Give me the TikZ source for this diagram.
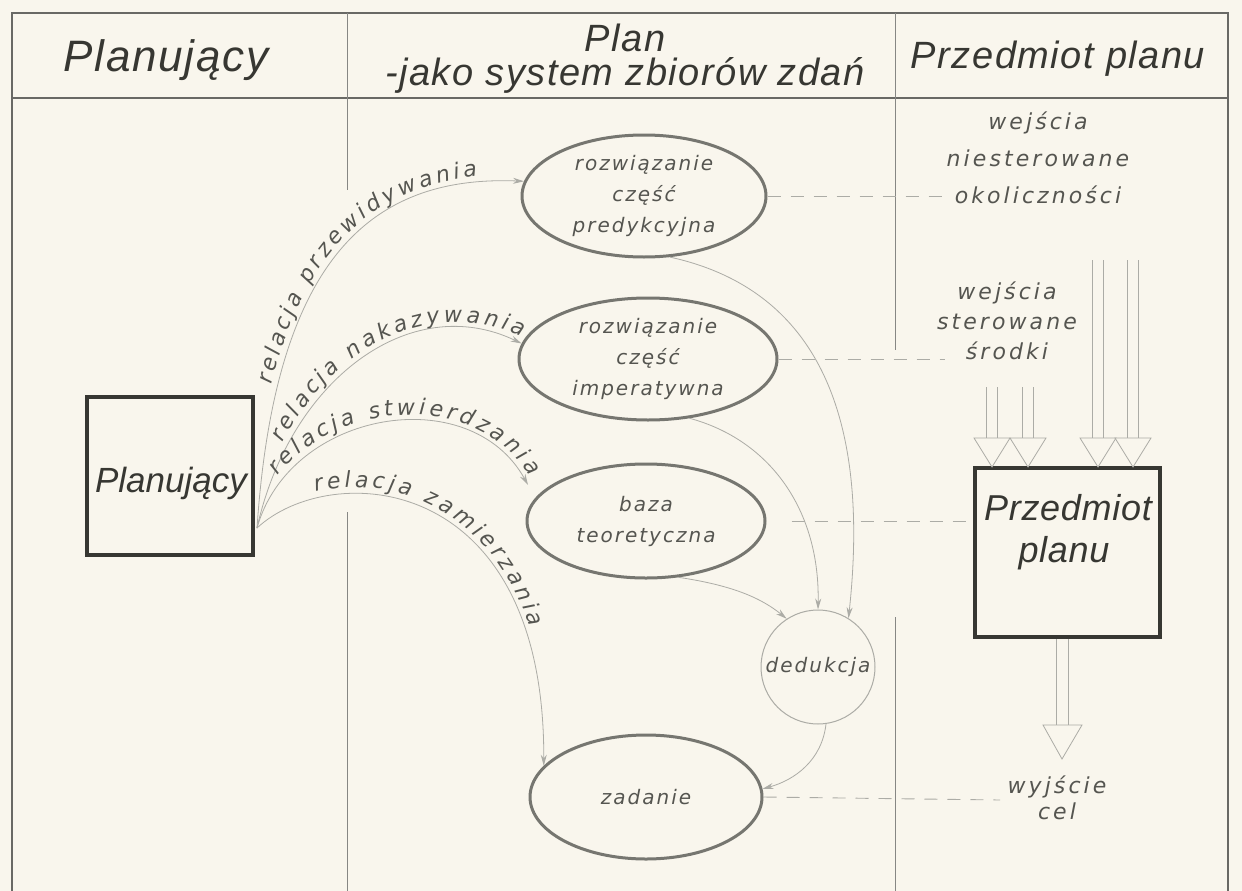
\documentclass[tikz,border=0pt]{standalone}
\usepackage{fontspec}
\setmainfont{DejaVu Sans}
\newfontfamily\hfont{Liberation Sans}[LetterSpace=4]
\newfontfamily\bfont{Liberation Sans}[LetterSpace=2]
\newfontfamily\pfont{Liberation Sans}
\newfontfamily\lfont{DejaVu Sans}[LetterSpace=10]
\newfontfamily\rfont{DejaVu Sans}[LetterSpace=14]
\newfontfamily\cfont{DejaVu Sans}
\usetikzlibrary{shapes.geometric,decorations.text,arrows.meta}
\definecolor{paper}{RGB}{249,246,237}
\definecolor{ink}{RGB}{55,55,50}
\definecolor{pencil}{RGB}{118,118,112}
\definecolor{faint}{RGB}{172,172,166}
\definecolor{txt}{RGB}{85,85,80}
\begin{document}
\begin{tikzpicture}[x=1pt,y=-1pt,
  rule/.style={draw=ink!75, line width=1.3pt},
  divider/.style={draw=ink!60, line width=0.9pt},
  htext/.style={font=\hfont\itshape\fontsize{38}{40}\selectfont, text=ink, inner sep=0pt, anchor=base},
  boxtext/.style={font=\bfont\itshape\fontsize{36}{38}\selectfont, text=ink, inner sep=0pt, anchor=base},
  heavybox/.style={draw=ink, line width=3.5pt, inner sep=0pt},
  oval/.style={ellipse, draw=pencil, line width=3pt, inner sep=0pt, align=center, text=txt, font=\lfont\itshape\fontsize{20}{31}\selectfont},
  ded/.style={circle, draw=faint, line width=1pt, inner sep=0pt, minimum size=114pt, text=txt, font=\lfont\itshape\fontsize{20}{24}\selectfont},
  conn/.style={draw=faint, line width=0.8pt, -{Stealth[length=11pt,width=6pt]}},
  guide/.style={draw=faint, line width=0.9pt, dash pattern=on 13pt off 10pt},
  side/.style={text=txt, align=center, inner sep=0pt},
  shaft/.style={draw=faint, line width=0.7pt},
  hollow/.style={draw=faint, line width=0.8pt, fill=paper, line join=miter},
  rel/.style={decorate, decoration={text effects along path, text={#1}, raise=6pt,
     text effects/.cd, text along path,
     characters={font=\cfont\itshape\fontsize{22}{24}\selectfont, text=txt, inner xsep=1.6pt},
     character widths={font=\cfont\itshape\fontsize{22}{24}\selectfont, inner xsep=1.6pt}}},
]
\fill[paper] (0,0) rectangle (1242,891);
\useasboundingbox (0,0) rectangle (1242,891);

% frame
\draw[rule] (12,891) -- (12,13) -- (1228,13) -- (1228,891);
\draw[rule] (12,98) -- (1228,98);
\draw[divider] (347,13) -- (347,190);
\draw[divider] (347,512) -- (347,891);
\draw[divider] (895,13) -- (895,350);
\draw[divider] (895,617) -- (895,891);

% headers
\node[htext, font=\hfont\itshape\fontsize{44}{46}\selectfont] (h1) at (166,72) {Planujący};
\node[htext] (h2a) at (625,52) {Plan};
\node[htext] (h2b) at (625,85) {-jako system zbiorów zdań};
\node[htext] (h3) at (1058,68) {Przedmiot planu};

% boxes
\node[heavybox, minimum width=166pt, minimum height=158pt] (PL) at (170,476) {};
\node[boxtext, font=\pfont\itshape\fontsize{35}{38}\selectfont] (PLt) at (171,492) {Planujący};
\node[heavybox, minimum width=185pt, minimum height=169pt] (PP) at (1067.5,552.5) {};
\node[boxtext] (PPt1) at (1068,520) {Przedmiot};
\node[boxtext] (PPt2) at (1064,562) {planu};

% ellipses
\node[oval, minimum width=244pt, minimum height=122pt] (E1) at (644,196) {rozwiązanie\\część\\predykcyjna};
\node[oval, minimum width=258pt, minimum height=122pt] (E2) at (648,359) {rozwiązanie\\część\\imperatywna};
\node[oval, minimum width=238pt, minimum height=114pt] (E3) at (646,521) {baza\\teoretyczna};
\node[oval, minimum width=232pt, minimum height=124pt] (E4) at (646,797) {zadanie};
\node[ded] (D) at (818,667) {dedukcja};

% common start point on the Planujacy box
\coordinate (s) at (257,528);

% relations (connectors)
\draw[conn] (s) .. controls (275,260) and (370,175) .. (E1.173);
\draw[conn] (s) .. controls (290,380) and (410,290) .. (E2.173);
\draw[conn] (s) .. controls (290,410) and (470,380) .. (528,485);
\draw[conn] (s) .. controls (330,460) and (545,470) .. (E4.163);

% relation labels (following the connectors)
\coordinate (t1) at (277,388);
\coordinate (t2) at (287,447);
\coordinate (t3) at (281,481);
\coordinate (t4) at (315,498);
\path[rel={relacja przewidywania}] (t1) .. controls (315,230) and (401,176) .. (E1.173);
\path[rel={relacja nakazywania}] (t2) .. controls (338,350) and (432,301) .. (E2.173);
\path[rel={relacja stwierdzania}] (t3) .. controls (341,404) and (479,396) .. (528,485);
\path[rel={relacja zamierzania}] (t4) .. controls (407,475) and (545,529) .. (E4.163);

% towards deduction
\draw[conn] (E1.-67) .. controls (820,290) and (870,420) .. (D.58);
\draw[conn] (E2.-55) .. controls (770,440) and (820,510) .. (D.north);
\draw[conn] (E3.-60) .. controls (730,585) and (760,597) .. (D.123);
\draw[conn] (D.-82) .. controls (822,760) and (795,780) .. (E4.4);

% dashed guides
\coordinate (d1) at (948,196);
\coordinate (d2) at (945,359);
\coordinate (d4) at (1000,800);
\draw[guide] (E1.east) -- (d1);
\draw[guide] (E2.east) -- (d2);
\draw[guide, shorten <=25pt] (E3.east) -- (PP.west |- E3.east);
\draw[guide] (E4.east) -- (d4);

% side texts
\node[side, font=\rfont\itshape\fontsize{22}{37}\selectfont] (in1) at (1038,158) {wejścia\\niesterowane\\okoliczności};
\node[side, font=\rfont\itshape\fontsize{22}{30}\selectfont] (in2) at (1007,321) {wejścia\\sterowane\\środki};
\node[side, font=\rfont\itshape\fontsize{22}{26}\selectfont] (out) at (1057,798) {wyjście\\cel};

% input arrows
\foreach \c/\t in {992/387, 1028/387, 1098/260, 1133/260} {
  \draw[shaft] (\c-5.5,\t) -- (\c-5.5,438) (\c+5.5,\t) -- (\c+5.5,438);
  \draw[hollow] (\c-18,438) -- (\c+18,438) -- (\c,467) -- cycle;
}
% output arrow
\draw[shaft] (1056,639) -- (1056,725) (1068,639) -- (1068,725);
\draw[hollow] (1043,725) -- (1082,725) -- (1062,759) -- cycle;
\end{tikzpicture}
\end{document}
